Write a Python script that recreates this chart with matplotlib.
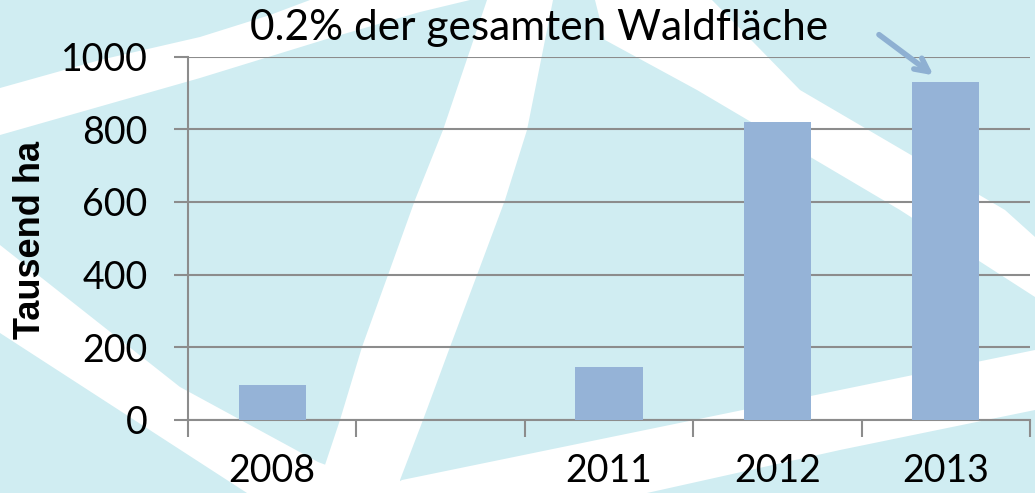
import matplotlib.pyplot as plt
from matplotlib.patches import Polygon
import numpy as np

# data
years = ["2008", "", "2011", "2012", "2013"]
area = [96, np.nan, 145, 820, 930]   # Tausend ha
y_ticks = [0, 200, 400, 600, 800, 1000]
note = "0.2% der gesamten Waldfläche"

W, H = 1035, 493
fig = plt.figure(figsize=(W / 100, H / 100), dpi=100)

# decorative background (pixel coords, y down)
bg = fig.add_axes([0, 0, 1, 1], zorder=0)
bg.set_xlim(0, W)
bg.set_ylim(H, 0)
bg.axis("off")
bg.add_patch(Polygon([(0, 0), (W, 0), (W, H), (0, H)], color="#d0edf2"))
bands = [
    [(0, 88), (100, 60), (200, 37), (270, 15), (310, 0), (470, 0), (420, 12), (330, 38), (200, 78), (0, 135)],
    [(0, 245), (180, 387), (318, 462), (400, 493), (247, 493), (0, 333)],
    [(487, 0), (553, 0), (527, 130), (505, 200), (477, 275), (450, 347), (423, 420), (400, 480),
     (400, 493), (315, 493), (320, 480), (340, 420), (362, 347), (388, 275), (415, 200), (443, 130)],
    [(595, 0), (712, 0), (800, 90), (1005, 210), (1035, 237), (1035, 297), (900, 210), (697, 90), (605, 40)],
    [(402, 480), (840, 390), (1035, 350), (1035, 410), (840, 450), (647, 493), (380, 493)],
]
for b in bands:
    bg.add_patch(Polygon(b, color="white", lw=0))

ax = fig.add_axes([188 / W, (H - 420) / H, (1030 - 188) / W, (420 - 56.6) / H], zorder=1)
ax.patch.set_alpha(0)

x = np.arange(len(years))
ax.bar(x, area, width=0.4, color="#95b3d7", zorder=3)

grid_c = "#8c8c8c"
ax.set_xlim(-0.5, len(years) - 0.5)
ax.set_ylim(0, 1000)
ax.set_yticks(y_ticks)
ax.yaxis.grid(True, color=grid_c, lw=1.5, zorder=1)
ax.set_axisbelow(True)
for s in ["top", "right"]:
    ax.spines[s].set_visible(False)
for s in ["left", "bottom"]:
    ax.spines[s].set_color(grid_c)
    ax.spines[s].set_linewidth(1.5)

ax.set_xticks(x)
ax.set_xticklabels(years)
ax.set_xticks(np.arange(len(years) + 1) - 0.5, minor=True)
ax.tick_params(axis="x", which="major", length=0, pad=24, labelsize=27)
ax.tick_params(axis="x", which="minor", length=12, width=1.5, color=grid_c, direction="out")
ax.tick_params(axis="y", length=10, width=1.5, color=grid_c, pad=19, labelsize=27)
for lab in ax.get_xticklabels() + ax.get_yticklabels():
    lab.set_fontfamily("Lato")

fig.text(31 / W, 1 - 240 / H, "Tausend ha", rotation=90, ha="center", va="center",
         fontsize=26, fontweight="bold", family="Liberation Sans")
fig.text(539 / W, 1 - 28 / H, note, ha="center", va="center", fontsize=30.5, family="Lato")

ax.annotate("", xy=(3.94, 944), xytext=(3.59, 1065), xycoords="data",
            annotation_clip=False,
            arrowprops=dict(arrowstyle="->", color="#8eb0d2", lw=4, mutation_scale=24))

fig.savefig("out.png", dpi=100)
